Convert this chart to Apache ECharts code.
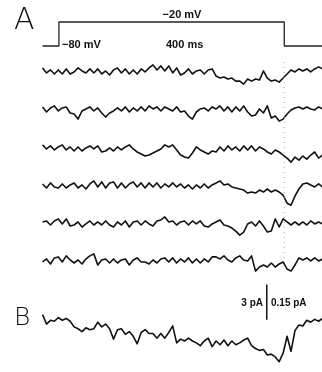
<!DOCTYPE html>
<html><head><meta charset="utf-8">
<script src="https://cdn.jsdelivr.net/npm/echarts@6/dist/echarts.min.js"></script>
<style>html,body{margin:0;padding:0;background:#fff}#c{width:322px;height:372px}</style>
</head><body><div id="c"></div>
<script>
// ---- data ----
const sampleMs = 7;          // sampling interval of the traces (ms)
const firstSampleMs = -29;   // time of the first sample relative to step onset (ms)
const stepTimes = [-29, 0, 0, 400, 400, 468];      // ms
const stepMv    = [-80, -80, -20, -20, -80, -80];  // mV
const stepLabels = ['\u221220 mV', '\u221280 mV', '400 ms'];
// single-channel current sweeps (pA)
const trace1 = [0.32,-0.08,0.16,-0.16,0.16,-0.16,0.24,-0.16,0,0.32, 0.08,-0.08,0.24,-0.08,0.24,-0.16,0.08,-0.24,0.16,0.32, -0.08,0.24,-0.16,0.16,-0.16,0.24,0,0.32,0.56,0.16, 0.48,0.08,0.48,-0.08,0.32,-0.24,-0.08,0.24,-0.16,0.08, 0.16,-0.16,0.16,0.24,-0.32,-0.48,-0.4,-0.56,-0.48,-0.72, -0.72,-0.96,-0.56,-0.72,-0.56,-0.64,0.08,-0.48,-0.72,-0.64, -0.8,-0.48,-0.16,0.16,0,0.24,0.08,0.24,0,0.24, 0.4,0.24];
const trace2 = [0.24,-0.16,0.16,0.32,-0.08,0.16,0.24,-0.24,-0.32,-0.72, -0.08,0.08,0.24,-0.08,0.16,-0.24,-0.56,-0.24,-0.08,0.16, -0.08,0.24,-0.16,0.16,-0.08,0.24,-0.08,0.32,0.08,0.24, -0.08,0.24,0.08,-0.08,0.24,-0.16,-0.08,-0.48,-0.72,-0.16, 0.08,0.16,-0.08,0.24,0.08,0.32,-0.08,0.24,-0.16,0.24, -0.08,0.32,-0.16,-0.48,-0.4,0.08,-0.24,0.32,-0.64,-0.48, -0.88,-0.72,-0.32,0,0.16,0.24,0.08,0.24,0.08,0, 0.24,0.08];
const trace3 = [0.32,0,0.24,-0.08,0.16,0.32,-0.08,0.16,-0.16,0.16, -0.16,0.08,0.24,0,0.24,-0.24,-0.16,0.08,-0.16,0.16, -0.08,0.16,0.32,0,-0.24,-0.4,-0.56,-0.48,-0.32,-0.16, 0,0.32,0.16,0.32,-0.08,-0.48,-0.64,-0.72,-0.32,0.16, -0.08,-0.24,-0.4,-0.16,-0.24,0.16,-0.16,0.24,-0.08,0.16, -0.16,0.24,-0.08,0.24,-0.16,0.16,0,-0.24,-0.4,-0.08, -0.24,-0.48,-0.72,-1.04,-0.64,-0.88,-0.56,-0.8,-0.48,-0.24, -0.72,-0.48];
const trace4 = [0.16,-0.16,0.24,-0.08,-0.16,0.16,-0.16,0.08,0.24,-0.16, 0.08,-0.24,0.16,0.4,-0.08,0.32,-0.16,0.24,0.32,-0.16, 0.24,-0.16,0.16,0.32,-0.08,0.24,-0.16,0.24,-0.08,0.24, -0.16,0.16,-0.08,0.24,-0.08,0.16,-0.16,0.08,-0.24,0.08, -0.16,0.16,-0.16,0.08,0.24,0.4,0.08,0.16,-0.08,-0.16, -0.24,-0.32,-0.56,-0.48,-0.56,-0.32,-0.48,-0.24,-0.48,-0.32, -0.48,-0.72,-1.36,-1.52,-0.8,-0.24,0.16,0.24,0.08,-0.08, 0.16,-0.08];
const trace5 = [0.08,0.16,-0.16,0.16,0.32,-0.08,0.32,-0.24,-0.16,0.08, -0.32,-0.08,0.16,-0.16,0.08,-0.16,0.16,-0.16,-0.32,0.08, -0.16,0.16,-0.32,0.08,0.16,-0.16,0.16,-0.08,-0.24,0.16, 0.24,0.48,0.08,0.16,-0.16,0.08,0.16,-0.16,0.16,-0.08, 0.16,-0.24,-0.32,-0.08,0.08,0.24,-0.16,-0.24,-0.4,-0.64, -0.96,-0.72,-0.08,0.08,-0.24,0.16,-0.24,-0.72,-0.64,0.32, -0.32,0.32,0.08,-0.16,0.08,-0.16,0.08,-0.16,0.16,-0.08, 0.08,-0.08];
const trace6 = [-0.08,0.16,-0.24,0.24,0.32,-0.08,0.4,0.08,-0.16,0.08, -0.24,0.16,0.4,0.56,-0.32,0.08,0.16,-0.16,0.16,-0.16, 0.08,0.16,-0.32,0.08,0.24,-0.08,-0.08,-0.24,0.08,-0.16, 0.16,0.24,-0.08,0.24,-0.16,0.16,-0.08,0.24,-0.16,0.16, -0.16,0.16,-0.08,0.32,0.32,0.16,0.4,0.08,-0.08,0.24, 0.4,0.08,0,0.4,-0.8,-0.48,-0.32,-0.48,-0.16,-0.48, -0.24,-0.08,-0.64,-0.8,-0.32,0.24,0.08,0.24,0,0.24, 0,0.16];
// averaged current (fA)
const traceB = [4,-36,-20,-24,-8,-20,-12,-24,-48,-56, -68,-52,-60,-56,-28,-48,-36,-56,-100,-60, -56,-80,-68,-88,-120,-72,-60,-76,-76,-96, -76,-96,-72,-44,-116,-100,-108,-96,-108,-116, -128,-108,-96,-132,-108,-124,-104,-128,-108,-124, -116,-104,-96,-128,-140,-148,-144,-168,-164,-176, -196,-160,-88,-152,-64,-40,-44,-20,-28,-16, -24,-12];
const scaleBarPA = 3;       // scale for sweeps in A
const scaleBarFA = 150;     // scale for B (0.15 pA)
const scaleBarTimeMs = 369;
const scaleBarBaseFA = -18;
const panelLabels = ['A', 'B'];

// ---- chart ----
const toXY = arr => arr.map((v, i) => [firstSampleMs + i * sampleMs, v]);
const aTraces = [trace1, trace2, trace3, trace4, trace5, trace6];
const aTops = [59.3, 97.3, 136.3, 173.3, 210.3, 248.3];
const X_MIN = -30, X_MAX = 467;

const grids = [], xAxes = [], yAxes = [], series = [];
function addGrid(top, height, ymin, ymax) {
  const idx = grids.length;
  grids.push({left: 42, right: 0, top: top, height: height});
  xAxes.push({type: 'value', gridIndex: idx, min: X_MIN, max: X_MAX, show: false});
  yAxes.push({type: 'value', gridIndex: idx, min: ymin, max: ymax, show: false});
  return idx;
}
const lineBase = {type: 'line', showSymbol: false, symbol: 'none', animation: false, clip: false,
  lineStyle: {color: '#111', width: 1.6, join: 'round'}};

// voltage protocol
const gStep = addGrid(18, 32, -90, -10);
series.push(Object.assign({}, lineBase, {xAxisIndex: gStep, yAxisIndex: gStep,
  data: stepTimes.map((t, i) => [t, stepMv[i]]), lineStyle: {color: '#222', width: 1.3}}));

// sweeps
aTraces.forEach((tr, k) => {
  const g = addGrid(aTops[k], 38, -2, 1);
  series.push(Object.assign({}, lineBase, {xAxisIndex: g, yAxisIndex: g, data: toXY(tr)}));
});

// averaged trace B
const gB = addGrid(278, 100, -240, 160);
series.push(Object.assign({}, lineBase, {xAxisIndex: gB, yAxisIndex: gB, data: toXY(traceB)}));
series.push(Object.assign({}, lineBase, {xAxisIndex: gB, yAxisIndex: gB,
  data: [[scaleBarTimeMs, scaleBarBaseFA], [scaleBarTimeMs, scaleBarBaseFA + scaleBarFA]],
  lineStyle: {color: '#111', width: 1.5}}));

// dotted line at end of step
const gD = addGrid(58, 200, 0, 1);
series.push(Object.assign({}, lineBase, {xAxisIndex: gD, yAxisIndex: gD,
  data: [[stepTimes[3], 0], [stepTimes[3], 1]], lineStyle: {color: '#aaa', width: 1, type: [1, 4]}}));

const txt = (x, y, text, size, align, weight, family) => ({type: 'text', x: x, y: y,
  style: {text: text, fontSize: size, fontWeight: weight || 'bold', fontFamily: family || 'Liberation Sans',
    fill: '#111', textAlign: align || 'left', textVerticalAlign: 'middle'}});

const chart = echarts.init(document.getElementById('c'), null, {renderer: 'canvas'});
chart.setOption({
  animation: false,
  grid: grids, xAxis: xAxes, yAxis: yAxes, series: series,
  graphic: [
    txt(14, 21, panelLabels[0], 30, 'left', 200, 'DejaVu Sans'),
    txt(14, 318, panelLabels[1], 25, 'left', 200, 'DejaVu Sans'),
    txt(182, 15, stepLabels[0], 11, 'center'),
    txt(62, 45, stepLabels[1], 11, 'left'),
    txt(166, 45, stepLabels[2], 11, 'left'),
    txt(263, 303, scaleBarPA + ' pA', 10, 'right'),
    txt(271, 303, (scaleBarFA / 1000) + ' pA', 10, 'left')
  ]
});
</script></body></html>
